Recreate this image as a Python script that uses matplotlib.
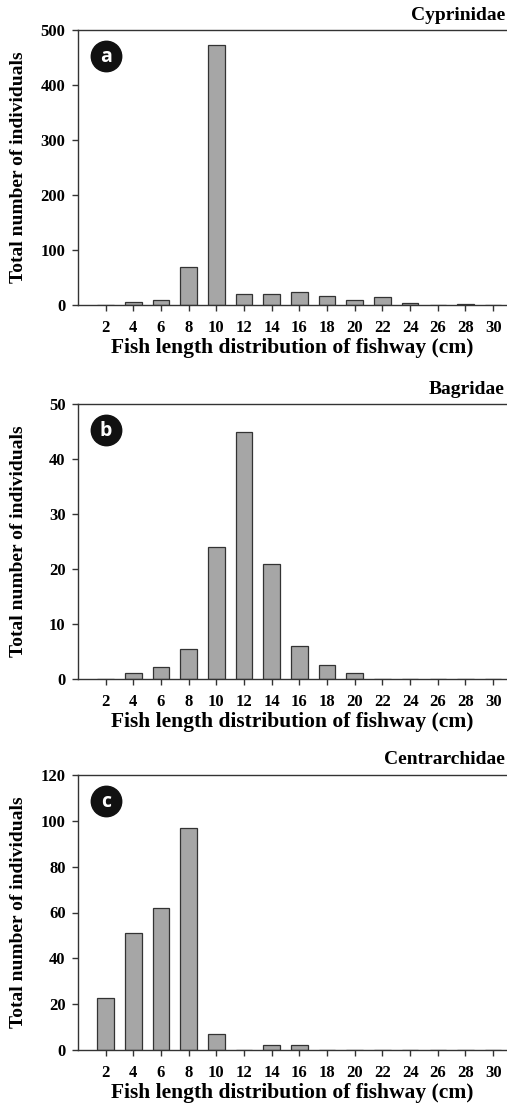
import numpy as np
import matplotlib.pyplot as plt

lengths = [2, 4, 6, 8, 10, 12, 14, 16, 18, 20, 22, 24, 26, 28, 30]
cyprinidae = [0, 5, 10, 70, 473, 20, 20, 24, 17, 10, 14, 3, 0, 1, 0]
bagridae = [0, 1.1, 2.2, 5.5, 24, 45, 21, 6, 2.5, 1.1, 0, 0, 0, 0, 0]
centrarchidae = [22.5, 51, 62, 97, 7, 0, 2, 2, 0, 0, 0, 0, 0, 0, 0]

panels = [
    ('a', 'Cyprinidae', cyprinidae, 500, 100),
    ('b', 'Bagridae', bagridae, 50, 10),
    ('c', 'Centrarchidae', centrarchidae, 120, 20),
]

W, H = 507, 1105
fig = plt.figure(figsize=(W / 100, H / 100), dpi=100)
serif = 'Liberation Serif'

tops = [30, 404, 775]
ax_h = 275
left = 78

for (letter, name, vals, ymax, ystep), top in zip(panels, tops):
    ax = fig.add_axes([left / W, 1 - (top + ax_h) / H, (W - left) / W, ax_h / H])
    ax.bar(lengths, vals, width=1.2, color='#a6a6a6', edgecolor='#333333', linewidth=0.9, zorder=2)
    ax.set_xlim(0, 31)
    ax.set_ylim(0, ymax)
    ax.set_xticks(lengths)
    ax.set_yticks(np.arange(0, ymax + 1, ystep))
    ax.spines['right'].set_visible(False)
    for s in ['left', 'bottom', 'top']:
        ax.spines[s].set_color('#333333')
        ax.spines[s].set_linewidth(1.0)
    ax.tick_params(direction='out', length=4, width=1.0, color='#333333')
    ax.tick_params(axis='x', pad=7)
    ax.tick_params(axis='y', pad=5)
    for lab in ax.get_xticklabels() + ax.get_yticklabels():
        lab.set_fontfamily(serif)
        lab.set_fontweight('bold')
        lab.set_fontsize(12)
    ax.set_ylabel('Total number of individuals', fontfamily=serif, fontweight='bold', fontsize=14)
    ax.yaxis.set_label_coords(-51 / (W - left), 0.5)
    ax.set_xlabel('Fish length distribution of fishway (cm)', fontfamily=serif,
                  fontweight='bold', fontsize=15.5, labelpad=1)
    fig.text(1 - 2 / W, 1 - (top - 15) / H, name, ha='right', va='center',
             fontfamily=serif, fontweight='bold', fontsize=14)
    ax.scatter([28 / (W - left)], [1 - 26 / ax_h], s=480, color='#111111',
               transform=ax.transAxes, clip_on=False, zorder=5)
    ax.text(28 / (W - left), 1 - 27 / ax_h, letter, transform=ax.transAxes,
            ha='center', va='center', color='white', fontfamily='Open Sans',
            fontweight='bold', fontsize=14, zorder=6)

fig.savefig('out.png', dpi=100)
